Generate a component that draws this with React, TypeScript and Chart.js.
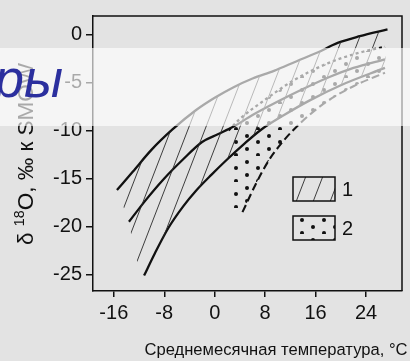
import { useEffect, useRef } from 'react';
import { Chart, registerables } from 'chart.js';

Chart.register(...registerables);

const xTickValues = [-16, -8, 0, 8, 16, 24];
const yTickValues = [-25, -20, -15, -10, -5, 0];

// Upper boundary (solid)
const curveAX = [-15.5, -13, -10, -6.7, -3, 0, 3, 6, 9.4, 13, 16.3, 19.5, 23, 27.4];
const curveAY = [-16.2, -14.3, -12.0, -9.9, -7.9, -6.6, -5.5, -4.6, -3.8, -2.8, -1.9, -0.9, -0.2, 0.5];
// Middle curve (solid)
const curveBX = [-13.6, -11, -8, -5, -2, 0.5, 3, 6, 10, 14, 18, 22, 27];
const curveBY = [-19.5, -17.3, -15.0, -13.0, -11.2, -10.4, -9.6, -8.4, -7.0, -5.7, -4.5, -3.5, -2.6];
// Lower curve (solid)
const curveCX = [-11.2, -9.5, -7.4, -5, -3, -0.5, 2, 4.5, 7.4, 11, 15, 20, 27];
const curveCY = [-25.1, -22.8, -20.2, -17.9, -16.3, -14.6, -13.0, -11.5, -9.9, -8.4, -6.9, -5.3, -3.5];
// Right boundary of field 2 (dashed)
const curveDX = [4.4, 6.5, 8.5, 10.5, 12.4, 15, 18, 22, 27];
const curveDY = [-18.5, -15.6, -13.2, -11.4, -10.0, -8.4, -6.9, -5.4, -4.0];
// Upper boundary of field 2 (dashed)
const curveEX = [2.2, 4, 8, 12.5, 18, 23, 27];
const curveEY = [-10, -8.8, -6.8, -4.8, -3.0, -1.9, -1.3];
// Lower-left edge of hatched field 1
const field1EdgeX = [-12.5, -13.8, -15.5];
const field1EdgeY = [-23.3, -19.0, -16.4];
// Left edge of dotted field 2
const field2EdgeX = [2.2];
const field2EdgeY = [-18.3];

const legendLabels = ['1', '2'];
const xTitle = 'Среднемесячная температура, °C';
const yTitleParts = ['δ ', '18', 'O, ‰ к SMOW'];
const overlayText = 'ры';

const BG = '#e3e3e3';
const INK = '#111111';
const FONT = '"Liberation Sans", Arial, sans-serif';

const pts = (xs: number[], ys: number[]) => xs.map((x, i) => ({ x, y: ys[i] }));

function makeHatch(): CanvasPattern | string {
  const c = document.createElement('canvas');
  const w = 17, h = 44;
  c.width = w; c.height = h;
  const g = c.getContext('2d');
  if (!g) return 'transparent';
  g.strokeStyle = '#2a2a2a';
  g.lineWidth = 0.9;
  for (const off of [-w, 0, w]) {
    g.beginPath();
    g.moveTo(off, h);
    g.lineTo(off + w, 0);
    g.stroke();
  }
  return g.createPattern(c, 'repeat') || 'transparent';
}

function makeDots(): CanvasPattern | string {
  const c = document.createElement('canvas');
  c.width = 22; c.height = 26;
  const g = c.getContext('2d');
  if (!g) return 'transparent';
  g.fillStyle = '#111';
  for (const [x, y] of [[5, 6], [16, 12], [5, 19], [16, 25]]) {
    g.beginPath();
    g.arc(x, y, 2, 0, Math.PI * 2);
    g.fill();
  }
  return g.createPattern(c, 'repeat') || 'transparent';
}

export default function App() {
  const ref = useRef<HTMLCanvasElement | null>(null);

  useEffect(() => {
    document.body.style.margin = '0';
    document.body.style.background = BG;
    const canvas = ref.current;
    if (!canvas) return;
    const hatch = makeHatch();
    const dots = makeDots();

    const field1 = [
      ...pts(curveAX, curveAY),
      ...pts(curveCX, curveCY).reverse(),
      ...pts(field1EdgeX, field1EdgeY),
    ];
    const field2 = [
      ...pts(field2EdgeX, field2EdgeY),
      ...pts(curveEX, curveEY),
      ...pts(curveDX, curveDY).reverse(),
    ];

    const decor = {
      id: 'decor',
      beforeDraw(chart: any) {
        const ctx = chart.ctx;
        ctx.save();
        ctx.fillStyle = BG;
        ctx.fillRect(0, 0, chart.width, chart.height);
        ctx.restore();
      },
      afterDraw(chart: any) {
        const ctx: CanvasRenderingContext2D = chart.ctx;
        const a = chart.chartArea;
        ctx.save();
        // top and right frame
        ctx.strokeStyle = INK;
        ctx.lineWidth = 1.5;
        ctx.beginPath();
        ctx.moveTo(a.left, a.top);
        ctx.lineTo(a.right, a.top);
        ctx.lineTo(a.right, a.bottom);
        ctx.stroke();

        // legend
        const boxes = [
          { y: 177, fill: hatch },
          { y: 216, fill: dots },
        ];
        boxes.forEach((b, i) => {
          ctx.fillStyle = BG;
          ctx.fillRect(293, b.y, 42, 24);
          ctx.fillStyle = b.fill as any;
          ctx.fillRect(293, b.y, 42, 24);
          ctx.strokeStyle = INK;
          ctx.lineWidth = 1.5;
          ctx.strokeRect(293, b.y, 42, 24);
          ctx.fillStyle = INK;
          ctx.font = `20px ${FONT}`;
          ctx.textAlign = 'left';
          ctx.textBaseline = 'middle';
          ctx.fillText(legendLabels[i], 342, b.y + 13);
        });

        // x title
        ctx.fillStyle = INK;
        ctx.font = `18px ${FONT}`;
        const mw = ctx.measureText(xTitle).width;
        const size = 18 * 263 / mw;
        ctx.font = `${size.toFixed(2)}px ${FONT}`;
        ctx.textAlign = 'center';
        ctx.textBaseline = 'alphabetic';
        ctx.fillText(xTitle, 276, 355);

        // y title (rotated), fitted to its length in the picture
        ctx.save();
        ctx.translate(25, 154);
        ctx.rotate(-Math.PI / 2);
        const baseSizes = [19, 12, 19];
        let baseTotal = 0;
        yTitleParts.forEach((t, i) => {
          ctx.font = `${baseSizes[i]}px ${FONT}`;
          baseTotal += ctx.measureText(t).width;
        });
        const k = 182 / baseTotal;
        const sizes = baseSizes.map((s) => s * k);
        const dys = [0, -7.5 * k, 0];
        let total = 0;
        const widths = yTitleParts.map((t, i) => {
          ctx.font = `${sizes[i].toFixed(2)}px ${FONT}`;
          const w = ctx.measureText(t).width;
          total += w;
          return w;
        });
        let cx = -total / 2;
        ctx.textAlign = 'left';
        ctx.textBaseline = 'alphabetic';
        yTitleParts.forEach((t, i) => {
          ctx.font = `${sizes[i].toFixed(2)}px ${FONT}`;
          ctx.fillText(t, cx, 7.5 + dys[i]);
          cx += widths[i];
        });
        ctx.restore();

        // semi-transparent white band
        ctx.fillStyle = 'rgba(255,255,255,0.64)';
        ctx.fillRect(0, 48, chart.width, 78);

        // blue slide text
        ctx.fillStyle = '#2b2f9e';
        ctx.font = `italic 53px ${FONT}`;
        ctx.textAlign = 'right';
        ctx.textBaseline = 'alphabetic';
        ctx.fillText(overlayText, 63, 97);
        ctx.restore();
      },
    };

    const curveStyle = (color: string, width: number, dash: number[] = []) => ({
      borderColor: color,
      borderWidth: width,
      borderDash: dash,
      pointRadius: 0,
      fill: false,
      cubicInterpolationMode: 'monotone' as const,
    });

    const chart = new Chart(canvas, {
      type: 'line',
      data: {
        datasets: [
          {
            data: field1,
            borderWidth: 0,
            pointRadius: 0,
            tension: 0,
            fill: 'shape',
            backgroundColor: hatch as any,
          } as any,
          {
            data: field2,
            borderWidth: 0,
            pointRadius: 0,
            tension: 0,
            fill: 'shape',
            backgroundColor: dots as any,
          } as any,
          { data: pts(curveAX, curveAY), ...curveStyle(INK, 2.3) },
          { data: pts(curveBX, curveBY), ...curveStyle(INK, 2.3) },
          { data: pts(curveCX, curveCY), ...curveStyle(INK, 2.3) },
          { data: pts(curveDX, curveDY), ...curveStyle(INK, 2.1, [8, 4]) },
          { data: pts(curveEX, curveEY), ...curveStyle(INK, 2.3, [3, 3]) },
        ],
      },
      options: {
        animation: false,
        responsive: false,
        events: [],
        layout: { padding: { top: 10, right: 8, left: 0, bottom: 0 } },
        plugins: { legend: { display: false }, tooltip: { enabled: false }, title: { display: false } },
        scales: {
          x: {
            type: 'linear',
            min: -19.3,
            max: 29.7,
            afterBuildTicks: (s: any) => { s.ticks = xTickValues.map((v) => ({ value: v })); },
            afterFit: (s: any) => { s.height = 70; },
            grid: { display: true, drawOnChartArea: false, drawTicks: true, tickLength: 6, color: INK, lineWidth: 1.5 },
            border: { display: true, color: INK, width: 1.5 },
            ticks: {
              color: INK,
              font: { family: FONT, size: 20 },
              padding: 4,
              maxRotation: 0,
              autoSkip: false,
              callback: (v: any) => String(v),
            },
          },
          y: {
            type: 'linear',
            min: -26.7,
            max: 1.9,
            afterBuildTicks: (s: any) => { s.ticks = yTickValues.map((v) => ({ value: v })); },
            afterFit: (s: any) => { s.width = 93; },
            grid: { display: true, drawOnChartArea: false, drawTicks: true, tickLength: 7, color: INK, lineWidth: 1.5 },
            border: { display: true, color: INK, width: 1.5 },
            ticks: {
              color: INK,
              font: { family: FONT, size: 20 },
              padding: 4,
              autoSkip: false,
              callback: (v: any) => String(v),
            },
          },
        },
      },
      plugins: [decor],
    } as any);

    return () => chart.destroy();
  }, []);

  return (
    <div style={{ width: 410, height: 361 }}>
      <canvas ref={ref} width={410} height={361} style={{ display: 'block' }} />
    </div>
  );
}
